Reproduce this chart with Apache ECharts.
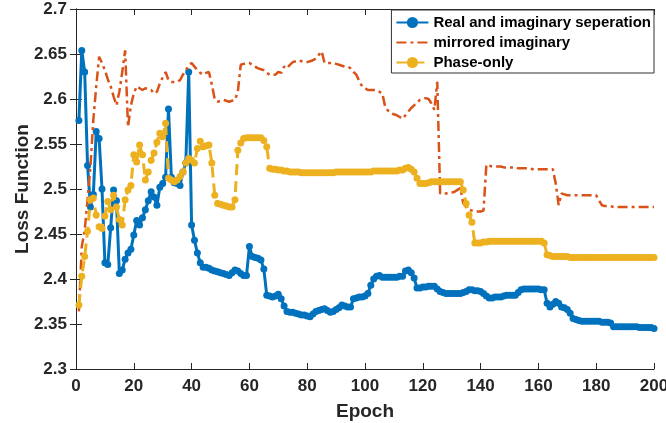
<!DOCTYPE html>
<html>
<head>
<meta charset="utf-8">
<script src="https://cdn.jsdelivr.net/npm/echarts@6/dist/echarts.min.js"></script>
<style>
  html, body { margin: 0; padding: 0; background: #fff; }
  #chart { width: 666px; height: 423px; }
</style>
</head>
<body>
<div id="chart"></div>
<script>
  // loss values per epoch (1..200)
  var realImag = [
    2.576, 2.654, 2.630, 2.526, 2.480, 2.494, 2.564, 2.556, 2.500, 2.418,
    2.416, 2.457, 2.499, 2.487, 2.406, 2.410, 2.422, 2.429, 2.433, 2.449,
    2.465, 2.460, 2.468, 2.477, 2.487, 2.497, 2.491, 2.482, 2.502, 2.506,
    2.513, 2.589, 2.513, 2.507, 2.506, 2.504, 2.519, 2.529, 2.630, 2.460,
    2.443, 2.429, 2.418, 2.413, 2.413, 2.412, 2.410, 2.409, 2.408, 2.407,
    2.406, 2.405, 2.404, 2.407, 2.410, 2.409, 2.406, 2.404, 2.404, 2.436,
    2.425, 2.424, 2.423, 2.421, 2.411, 2.382, 2.381, 2.380, 2.381, 2.383,
    2.378, 2.370, 2.364, 2.363, 2.363, 2.362, 2.361, 2.360, 2.360, 2.359,
    2.358, 2.361, 2.364, 2.365, 2.366, 2.367, 2.365, 2.363, 2.364, 2.366,
    2.368, 2.371, 2.370, 2.369, 2.369, 2.378, 2.379, 2.380, 2.380, 2.381,
    2.384, 2.393, 2.400, 2.403, 2.404, 2.402, 2.402, 2.402, 2.402, 2.402,
    2.402, 2.403, 2.403, 2.409, 2.410, 2.407, 2.401, 2.390, 2.390, 2.391,
    2.391, 2.392, 2.392, 2.392, 2.389, 2.386, 2.385, 2.384, 2.384, 2.384,
    2.384, 2.384, 2.384, 2.385, 2.386, 2.388, 2.388, 2.387, 2.387, 2.386,
    2.384, 2.381, 2.379, 2.379, 2.380, 2.380, 2.380, 2.381, 2.382, 2.382,
    2.382, 2.382, 2.385, 2.388, 2.389, 2.389, 2.389, 2.389, 2.389, 2.389,
    2.388, 2.388, 2.373, 2.369, 2.372, 2.375, 2.373, 2.369, 2.368, 2.366,
    2.362, 2.356, 2.355, 2.354, 2.353, 2.353, 2.353, 2.353, 2.353, 2.353,
    2.353, 2.352, 2.352, 2.352, 2.351, 2.347, 2.347, 2.347, 2.347, 2.347,
    2.347, 2.347, 2.347, 2.347, 2.346, 2.346, 2.346, 2.346, 2.346, 2.345
  ];
  var mirrored = [
    2.364, 2.436, 2.454, 2.488, 2.525, 2.577, 2.614, 2.647, 2.640, 2.632,
    2.622, 2.614, 2.603, 2.593, 2.608, 2.630, 2.654, 2.569, 2.593, 2.606,
    2.614, 2.612, 2.610, 2.612, 2.611, 2.610, 2.606, 2.608, 2.617, 2.624,
    2.630, 2.621, 2.619, 2.619, 2.619, 2.621, 2.627, 2.632, 2.637, 2.640,
    2.636, 2.632, 2.629, 2.627, 2.629, 2.630, 2.616, 2.600, 2.597, 2.598,
    2.599, 2.598, 2.597, 2.598, 2.599, 2.608, 2.638, 2.639, 2.640, 2.640,
    2.638, 2.636, 2.634, 2.633, 2.632, 2.629, 2.627, 2.627, 2.627, 2.630,
    2.629, 2.636, 2.634, 2.638, 2.641, 2.642, 2.643, 2.642, 2.641, 2.641,
    2.642, 2.643, 2.645, 2.649, 2.653, 2.640, 2.640, 2.640, 2.640, 2.639,
    2.638, 2.637, 2.636, 2.636, 2.634, 2.630, 2.627, 2.620, 2.614, 2.612,
    2.610, 2.610, 2.610, 2.610, 2.608, 2.606, 2.591, 2.587, 2.584, 2.583,
    2.582, 2.580, 2.578, 2.582, 2.586, 2.590, 2.593, 2.596, 2.599, 2.600,
    2.601, 2.600, 2.595, 2.588, 2.619, 2.495, 2.495, 2.495, 2.496, 2.496,
    2.497, 2.499, 2.501, 2.484, 2.480, 2.477, 2.476, 2.475, 2.475, 2.475,
    2.476, 2.527, 2.526, 2.525, 2.525, 2.525, 2.525, 2.524, 2.524, 2.524,
    2.524, 2.524, 2.523, 2.523, 2.523, 2.523, 2.523, 2.522, 2.522, 2.522,
    2.522, 2.522, 2.522, 2.522, 2.522, 2.506, 2.482, 2.495, 2.494, 2.493,
    2.493, 2.493, 2.493, 2.493, 2.493, 2.493, 2.493, 2.493, 2.493, 2.493,
    2.487, 2.482, 2.481, 2.481, 2.481, 2.480, 2.480, 2.480, 2.480, 2.480,
    2.480, 2.480, 2.480, 2.480, 2.480, 2.480, 2.480, 2.480, 2.480, 2.480
  ];
  var phaseOnly = [
    2.371, 2.403, 2.425, 2.453, 2.488, 2.490, 2.471, 2.458, 2.456, 2.470,
    2.486, 2.477, 2.493, 2.480, 2.466, 2.460, 2.488, 2.499, 2.504, 2.538,
    2.530, 2.549, 2.538, 2.510, 2.519, 2.532, 2.540, 2.552, 2.562, 2.558,
    2.573, 2.512, 2.510, 2.508, 2.510, 2.514, 2.519, 2.529, 2.534, 2.532,
    2.529, 2.545, 2.553, 2.547, 2.548, 2.549, 2.529, 2.493, 2.484, 2.483,
    2.482, 2.481, 2.480, 2.480, 2.488, 2.543, 2.551, 2.556, 2.557, 2.557,
    2.557, 2.557, 2.557, 2.557, 2.554, 2.547, 2.523, 2.522, 2.522, 2.521,
    2.521, 2.520, 2.520, 2.519, 2.519, 2.519, 2.519, 2.518, 2.518, 2.518,
    2.518, 2.518, 2.518, 2.518, 2.518, 2.518, 2.518, 2.518, 2.518, 2.519,
    2.519, 2.519, 2.519, 2.519, 2.519, 2.519, 2.519, 2.519, 2.519, 2.519,
    2.519, 2.519, 2.520, 2.520, 2.520, 2.520, 2.520, 2.520, 2.520, 2.520,
    2.520, 2.521, 2.521, 2.523, 2.524, 2.522, 2.519, 2.512, 2.506, 2.506,
    2.506, 2.507, 2.508, 2.508, 2.508, 2.508, 2.508, 2.508, 2.508, 2.508,
    2.508, 2.508, 2.508, 2.499, 2.484, 2.471, 2.463, 2.440, 2.440, 2.440,
    2.441, 2.441, 2.442, 2.442, 2.442, 2.442, 2.442, 2.442, 2.442, 2.442,
    2.442, 2.442, 2.442, 2.442, 2.442, 2.442, 2.442, 2.442, 2.442, 2.442,
    2.442, 2.440, 2.427, 2.426, 2.425, 2.425, 2.425, 2.425, 2.425, 2.425,
    2.424, 2.424, 2.424, 2.424, 2.424, 2.424, 2.424, 2.424, 2.424, 2.424,
    2.424, 2.424, 2.424, 2.424, 2.424, 2.424, 2.424, 2.424, 2.424, 2.424,
    2.424, 2.424, 2.424, 2.424, 2.424, 2.424, 2.424, 2.424, 2.424, 2.424
  ];
  var seriesNames = ['Real and imaginary seperation', 'mirrored imaginary', 'Phase-only'];

  var epochs = [];
  for (var i = 1; i <= realImag.length; i++) epochs.push(i);

  function pairs(vals) {
    return epochs.map(function (e, i) { return [e, vals[i]]; });
  }

  var axisColor = '#262626';
  var font = "'Liberation Sans', Arial, sans-serif";

  var chart = echarts.init(document.getElementById('chart'));
  chart.setOption({
    animation: false,
    color: ['#0072BD', '#D95319', '#EDB120'],
    // fixed plot box; the "200" label is allowed to run off the right edge
    grid: { left: 76, top: 9, right: 12, bottom: 54, show: false, containLabel: false, outerBoundsMode: 'none' },
    legend: {
      orient: 'vertical',
      right: 12,
      top: 10,
      padding: [5, 3, 3, 4],
      itemGap: 5,
      itemWidth: 32,
      itemHeight: 14,
      backgroundColor: '#fff',
      borderColor: '#333',
      borderWidth: 1,
      textStyle: { fontFamily: font, fontWeight: 'bold', fontSize: 15, lineHeight: 14, color: '#000' },
      data: [
        { name: seriesNames[0] },
        // mirrored has no markers: hide the legend dot
        { name: seriesNames[1], itemStyle: { opacity: 0 } },
        { name: seriesNames[2] }
      ]
    },
    xAxis: [{
      type: 'value',
      min: 0, max: 200, interval: 20,
      name: 'Epoch',
      nameLocation: 'middle',
      nameGap: 33,
      nameMoveOverlap: false,
      nameTextStyle: { fontFamily: font, fontWeight: 'bold', fontSize: 19, color: axisColor },
      axisLine: { lineStyle: { color: axisColor, width: 1 } },
      axisTick: { inside: true, length: 6, lineStyle: { color: axisColor } },
      axisLabel: { fontFamily: font, fontWeight: 'bold', fontSize: 17, color: axisColor, margin: 9 },
      splitLine: { show: false }
    }, {
      type: 'value', position: 'top',
      min: 0, max: 200, interval: 20,
      axisLine: { show: true, lineStyle: { color: axisColor, width: 1 } },
      axisTick: { inside: true, length: 6, lineStyle: { color: axisColor } },
      axisLabel: { show: false },
      splitLine: { show: false }
    }],
    yAxis: [{
      type: 'value',
      min: 2.3, max: 2.7, interval: 0.05,
      name: 'Loss Function',
      nameLocation: 'middle',
      nameGap: 44,
      nameMoveOverlap: false,
      nameTextStyle: { fontFamily: font, fontWeight: 'bold', fontSize: 19, color: axisColor },
      axisLine: { show: true, lineStyle: { color: axisColor, width: 1 } },
      axisTick: { inside: true, length: 6, lineStyle: { color: axisColor } },
      axisLabel: {
        fontFamily: font, fontWeight: 'bold', fontSize: 17, color: axisColor, margin: 9,
        formatter: function (v) { return String(parseFloat(v.toFixed(2))); }
      },
      splitLine: { show: false }
    }, {
      type: 'value', position: 'right',
      min: 2.3, max: 2.7, interval: 0.05,
      axisLine: { show: true, lineStyle: { color: axisColor, width: 1 } },
      axisTick: { inside: true, length: 6, lineStyle: { color: axisColor } },
      axisLabel: { show: false },
      splitLine: { show: false }
    }],
    series: [
      {
        name: seriesNames[0],
        type: 'line',
        data: pairs(realImag),
        symbol: 'circle',
        symbolSize: 7,
        showAllSymbol: true,
        lineStyle: { width: 3 },
        z: 2
      },
      {
        name: seriesNames[1],
        type: 'line',
        data: pairs(mirrored),
        symbol: 'none',
        lineStyle: { width: 2.5, type: [10, 4, 3, 4] },
        z: 3
      },
      {
        name: seriesNames[2],
        type: 'line',
        data: pairs(phaseOnly),
        symbol: 'circle',
        symbolSize: 7,
        showAllSymbol: true,
        lineStyle: { width: 3, type: [11, 6] },
        z: 4
      }
    ]
  });
</script>
</body>
</html>
